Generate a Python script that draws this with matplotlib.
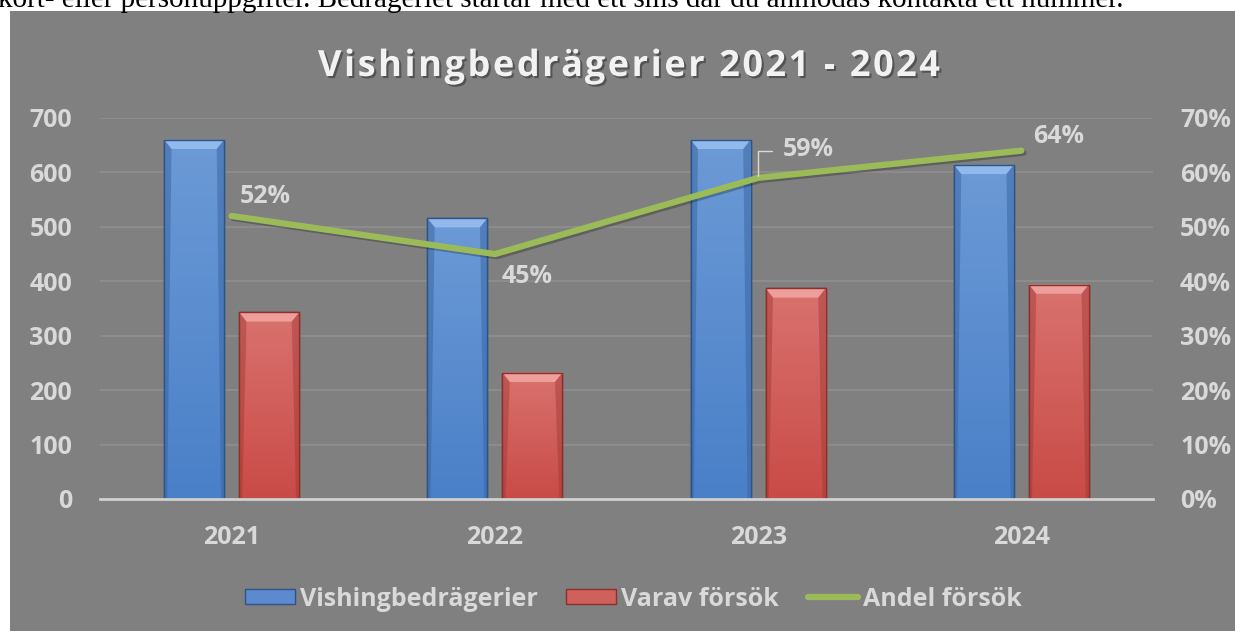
import numpy as np
import matplotlib
matplotlib.use('Agg')
import matplotlib.pyplot as plt
import matplotlib.patheffects as pe
from matplotlib.patches import Rectangle, Polygon, Patch
from matplotlib.lines import Line2D
from matplotlib.colors import LinearSegmentedColormap
from matplotlib.font_manager import FontProperties
from matplotlib.ticker import PercentFormatter

plt.rcParams['font.family'] = ['Open Sans', 'DejaVu Sans']
plt.rcParams['font.weight'] = 'bold'

# data
years = ['2021', '2022', '2023', '2024']
vishing = [660, 516, 660, 614]
forsok = [343, 232, 387, 394]
andel = [0.52, 0.45, 0.59, 0.64]
andel_labels = ['52%', '45%', '59%', '64%']

title = 'Vishingbedrägerier 2021 - 2024'
top_text = ('kort- eller personuppgifter. Bedrägeriet startar med ett sms '
            'där du anmodas kontakta ett nummer.')

W, H = 1235, 631
txt_col = '#d9d9d9'
bg = '#808080'
fs = 18

fig = plt.figure(figsize=(W / 100, H / 100), dpi=100)
fig.patch.set_facecolor('white')

# gray chart panel
fig.add_artist(Rectangle((10 / W, 0), 1, 1 - 11 / H, transform=fig.transFigure,
                         facecolor=bg, edgecolor='none', zorder=0))
# cut-off document text above the chart
fig.text(-2 / W, 1 - 7 / H, top_text, family='Liberation Serif', fontweight='normal',
         fontsize=21, color='black', ha='left', va='baseline', zorder=5)

ax = fig.add_axes([100 / W, 1 - 499 / H, 1053 / W, 381 / H])
ax.patch.set_visible(False)
x = np.arange(len(years))
bw = 0.228
off = 0.1425


def fancy_bars(xs, vals, top_c, bot_c, bevel_c, side_c, edge_c):
    bars = ax.bar(xs, vals, width=bw, color=bot_c, edgecolor=edge_c, linewidth=1, zorder=2)
    cmap = LinearSegmentedColormap.from_list('g', [bot_c, top_c])
    grad = np.linspace(1, 0, 100).reshape(-1, 1)
    for r in bars:
        x0, w, h = r.get_x(), r.get_width(), r.get_height()
        im = ax.imshow(grad, extent=[x0, x0 + w, 0, h], aspect='auto', cmap=cmap,
                       zorder=2.1, interpolation='bilinear')
        im.set_clip_path(r)
        ins = 0.028
        bh = 17
        ax.add_patch(Polygon([[x0, h], [x0 + w, h], [x0 + w - ins, h - bh], [x0 + ins, h - bh]],
                             closed=True, facecolor=bevel_c, edgecolor='none', zorder=2.2))
        sw = 0.012
        ax.add_patch(Polygon([[x0, h], [x0 + ins, h - bh], [x0 + sw, 0], [x0, 0]],
                             closed=True, facecolor=side_c, edgecolor='none', alpha=0.45, zorder=2.2))
        ax.add_patch(Polygon([[x0 + w, h], [x0 + w - ins, h - bh], [x0 + w - sw, 0], [x0 + w, 0]],
                             closed=True, facecolor=side_c, edgecolor='none', alpha=0.45, zorder=2.2))
        ax.add_patch(Rectangle((x0, 0), w, h, facecolor='none', edgecolor=edge_c, lw=1, zorder=2.3))
    return bars


fancy_bars(x - off, vishing, '#6c9ad6', '#4a80c8', '#92b9ec', '#325f9c', '#2f5385')
fancy_bars(x + off, forsok, '#d9726e', '#c94b47', '#ee9f9c', '#9e3734', '#8c2f2d')

ax.set_xlim(-0.5, 3.5)
ax.set_ylim(0, 700)
ax.set_yticks(range(0, 701, 100))
ax.set_xticks(x, years)
ax.yaxis.grid(True, color='#8f8f8f', lw=1.2)
ax.set_axisbelow(True)
for s in ['top', 'left', 'right']:
    ax.spines[s].set_visible(False)
ax.spines['bottom'].set_color('#d0d0d0')
ax.spines['bottom'].set_linewidth(2)
ax.spines['bottom'].set_zorder(3)
ax.tick_params(axis='both', length=0, labelsize=fs, labelcolor=txt_col)
ax.tick_params(axis='x', pad=19)
ax.tick_params(axis='y', pad=20)

ax2 = ax.twinx()
ax2.patch.set_visible(False)
ax2.set_ylim(0, 0.7)
ax2.set_yticks(np.arange(0, 0.71, 0.1))
ax2.yaxis.set_major_formatter(PercentFormatter(1.0, decimals=0))
for s in ax2.spines.values():
    s.set_visible(False)
ax2.tick_params(axis='y', length=0, labelsize=fs, labelcolor=txt_col, pad=19.5)

ax2.plot(x, andel, color='#9bbb59', lw=4.5, solid_capstyle='round', solid_joinstyle='round',
         zorder=4, path_effects=[pe.SimpleLineShadow(offset=(1.5, -1.5), alpha=0.25), pe.Normal()])

lab_off = [(34, 19), (32, -22), (50, 28), (37, 14)]
for i, (lab, o) in enumerate(zip(andel_labels, lab_off)):
    kw = {}
    if i == 2:
        kw['arrowprops'] = dict(arrowstyle='-', color=txt_col, lw=1,
                                connectionstyle='angle,angleA=180,angleB=90,rad=0',
                                shrinkA=6, shrinkB=1, relpos=(0, 0.45))
    ax2.annotate(lab, (x[i], andel[i]), xytext=o, textcoords='offset pixels',
                 ha='center', va='center', fontsize=fs, color=txt_col, zorder=5, **kw)

# title with letter spacing
fp = FontProperties(family='Open Sans', weight='bold', size=26)
renderer = fig.canvas.get_renderer()
bar_w = renderer.get_text_width_height_descent('|', fp, ismath=False)[0]


def tw(s):
    return renderer.get_text_width_height_descent(s + '|', fp, ismath=False)[0] - bar_w


t_x0, t_x1, t_base = 318, 940, 76
track = ((t_x1 - t_x0) - tw(title)) / (len(title) - 1)
for i, ch in enumerate(title):
    if ch == ' ':
        continue
    px = t_x0 + tw(title[:i]) + i * track
    fig.text(px / W, 1 - t_base / H, ch, fontproperties=fp, color='#f2f2f2',
             ha='left', va='baseline', zorder=6,
             path_effects=[pe.withSimplePatchShadow(offset=(1.5, -1.5), shadow_rgbFace='black', alpha=0.35)])

handles = [Patch(facecolor='#5b8ad0', edgecolor='#2f5385'),
           Patch(facecolor='#d0605c', edgecolor='#8c2f2d'),
           Line2D([0], [0], color='#9bbb59', lw=4.5, solid_capstyle='round')]
fig.legend(handles, ['Vishingbedrägerier', 'Varav försök', 'Andel försök'],
           loc='center', bbox_to_anchor=(633 / W, 1 - 599 / H), ncol=3, frameon=False,
           fontsize=fs, labelcolor=txt_col, handlelength=2.0, handleheight=0.55,
           handletextpad=0.2, columnspacing=1.15)

fig.savefig('out.png', dpi=100)
